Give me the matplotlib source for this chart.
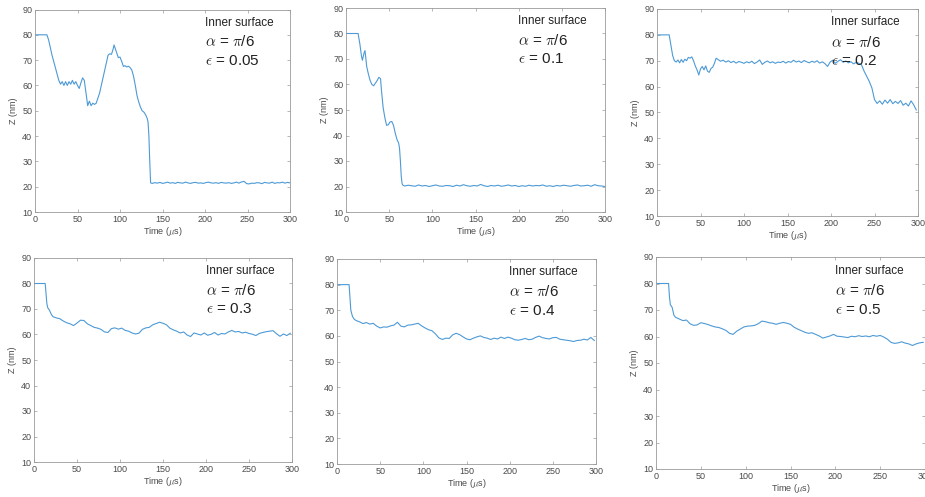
import numpy as np
import matplotlib
matplotlib.use("Agg")
import matplotlib.pyplot as plt

plt.rcParams['font.family'] = ['Liberation Sans', 'DejaVu Sans']
plt.rcParams['mathtext.fontset'] = 'cm'

# ---------------- data ----------------
eps_labels = ["0.05", "0.1", "0.2", "0.3", "0.4", "0.5"]

# panel 1, eps = 0.05
t1_head = [0, 14, 16, 18, 20, 22, 24, 26, 28, 30,
           32, 34, 36, 38, 40, 42, 44, 46, 48, 50,
           52, 54, 56, 58, 60, 62, 64, 66, 68, 70,
           72, 74, 76, 78, 80, 82, 84, 86, 88, 90,
           92, 93, 94, 96, 98, 100, 102, 104, 106, 108,
           110, 112, 114, 116, 118, 120, 122, 124, 126, 128,
           130, 132, 133, 134, 135, 136]
z1_head = [80, 80, 78, 75, 72, 69.5, 67, 64.5, 62, 60.5,
           61.5, 60, 61.5, 60, 61.5, 60.5, 62, 60.5, 61.5, 60,
           58.8, 61, 63, 62, 57, 52, 53.8, 52, 53, 52.5,
           53, 55, 57, 60, 63, 66, 69, 72, 72.5, 72.3,
           74.5, 76, 75, 73, 71, 71.2, 69.5, 67.5, 67.8, 67.3,
           67.6, 67, 66, 63.5, 60, 56, 53.5, 51.5, 50, 49.5,
           48.5, 47, 45.5, 40, 30, 21.5]
t1_tail = np.arange(138, 301, 3)
z1_tail = [21.3, 21.6, 21.4, 21.7, 21.3, 21.5, 21.8, 21.4, 21.6, 21.3,
           21.7, 21.5, 21.4, 21.8, 21.5, 21.3, 21.6, 21.7, 21.4, 21.5,
           21.3, 21.6, 21.8, 21.5, 21.4, 21.6, 21.3, 21.7, 21.5, 21.4,
           21.6, 21.3, 21.5, 21.8, 21.4, 21.9, 22.1, 21.2, 21.1, 21.4,
           21.3, 21.6, 21.5, 21.2, 21.7, 21.5, 21.4, 21.8, 21.3, 21.6,
           21.5, 21.8, 21.4, 21.7, 21.5]

# panel 2, eps = 0.1
t2_head = [0, 14, 16, 18, 19, 21, 22, 24, 26, 28,
           30, 32, 34, 36, 38, 40, 41, 43, 45, 47,
           49, 51, 53, 55, 57, 59, 61, 62, 63, 64,
           65, 66]
z2_head = [80, 80, 76, 71, 69.5, 72.5, 73.3, 67, 64, 61.5,
           60, 59.5, 60.5, 61.5, 62.8, 62.3, 58, 51, 47, 44,
           44.2, 45.3, 45.5, 44, 41, 38.5, 37, 35, 30, 24,
           21, 20.5]
t2_tail = np.arange(68, 301, 4)
z2_tail = [20.2, 20.5, 20.3, 20.1, 20.6, 20.2, 20.4, 20.0, 20.3, 20.6,
           20.2, 20.1, 20.4, 20.3, 20.0, 20.5, 20.2, 20.7, 20.3, 20.1,
           20.4, 20.2, 20.8, 20.3, 20.0, 20.4, 20.2, 20.5, 20.1, 20.3,
           20.6, 20.2, 20.4, 20.0, 20.3, 20.1, 20.5, 20.2, 20.4, 20.3,
           20.6, 20.1, 20.3, 20.0, 20.4, 20.2, 20.5, 20.3, 20.1, 20.4,
           20.6, 20.2, 20.3, 20.5, 20.1, 20.7, 20.3, 20.2, 20.0]

# panel 3, eps = 0.2
t3_head = [0, 14, 16, 18, 20, 22, 24, 26, 28, 30,
           32, 34, 36, 38, 40, 42, 44, 46, 48, 50,
           52, 54, 56, 58, 60, 62, 64, 66, 68]
z3_head = [80, 80, 76, 72, 70, 69.5, 70.3, 69.2, 70.5, 69.4,
           70.6, 70, 71.3, 71, 71.5, 70, 68, 66.5, 64.5, 66.8,
           67.8, 66.5, 68, 66, 65.5, 67, 67.5, 69, 71]
t3_mid = np.arange(70, 232, 3)
z3_mid = [70.5, 69.8, 70.2, 69.5, 70.0, 69.3, 69.8, 69.1, 69.7, 69.4,
          69.0, 69.6, 69.2, 69.8, 68.9, 69.5, 70.3, 68.6, 69.4, 69.9,
          69.2, 69.6, 69.0, 69.5, 69.3, 69.8, 69.1, 69.7, 69.4, 70.2,
          69.5, 69.9, 69.3, 70.1, 69.6, 69.2, 69.8, 69.4, 70.0, 69.1,
          69.6, 68.9, 67.8, 69.5, 70.2, 69.0, 69.8, 70.4, 69.4, 69.9,
          69.2, 69.6, 68.8, 69.4]
t3_tail = np.arange(232, 301, 3)
z3_tail = [69.0, 68.5, 66, 64, 62, 59.5, 55, 53.5, 54.5, 53.2,
           54.8, 53.6, 55, 53.4, 54.3, 53.5, 54.6, 52.8, 53.6, 52.5,
           54.5, 53, 51]

# panel 4, eps = 0.3
t4_head = [0, 13, 14, 15, 16, 18, 20]
z4_head = [80, 80, 76, 72, 70.5, 69.5, 68]
t4_tail = np.arange(22, 301, 4)
z4_tail = [67, 66.5, 66.2, 65.3, 64.6, 64.2, 63.5, 64.5, 65.6, 65.5,
           64.2, 63.5, 62.8, 62.5, 62, 61, 60.8, 62.3, 62.6, 62.1,
           62.5, 61.6, 61.3, 60.6, 60.2, 60.5, 62, 62.6, 62.8, 63.8,
           64.3, 64.8, 64.4, 63.8, 62.5, 61.8, 61.3, 60.6, 61, 59.8,
           59.2, 60.6, 60.2, 59.8, 60.6, 59.7, 60.1, 60.8, 59.8, 60.4,
           60.2, 61, 61.6, 61, 61.2, 60.6, 60.9, 60.4, 60.1, 59.6,
           60.4, 60.8, 61.1, 61.3, 61.5, 60.3, 59.3, 60.2, 59.6, 60.5]

# panel 5, eps = 0.4
t5_head = [0, 14, 15, 16, 18, 20]
z5_head = [80, 80, 75, 70, 67.5, 66.5]
t5_tail = np.arange(22, 301, 4)
z5_tail = [66, 65.5, 64.8, 65.2, 64.6, 64.9, 63.8, 63.1, 63.5, 63.4,
           63.9, 64.2, 65.3, 63.8, 63.5, 64.2, 64.3, 64.6, 64.9, 63.9,
           63.1, 62.4, 62, 60.8, 59.2, 58.6, 59.1, 59, 60.4, 61,
           60.5, 59.6, 58.8, 58.5, 59.1, 59.6, 60, 59.4, 59.1, 58.6,
           59.1, 58.8, 59.5, 59, 59.5, 59.1, 58.5, 58.3, 58.6, 59,
           58.5, 58.7, 59.4, 59.9, 59.3, 59, 58.8, 59.3, 59.4, 58.7,
           58.5, 58.3, 58.1, 57.8, 58.2, 58.3, 58.7, 58.4, 59.4, 58.2]

# panel 6, eps = 0.5
t6_head = [0, 14, 15, 16, 18, 20]
z6_head = [80, 80, 75, 72, 71, 68]
t6_tail = np.arange(22, 301, 4)
z6_tail = [67.2, 66.6, 66, 66.2, 64.8, 64.2, 64.4, 65.2, 64.9, 64.5,
           64, 63.6, 63.4, 62.9, 62.3, 61.2, 60.8, 62, 62.8, 63.6,
           63.9, 64, 64.2, 64.8, 65.8, 65.6, 65.2, 65, 64.6, 65,
           65.3, 65, 64.6, 63.5, 62.8, 62.2, 61.6, 61.2, 61.4, 60.8,
           60.2, 59.4, 59.8, 60.2, 60.8, 60.1, 60, 59.8, 59.6, 60.1,
           59.9, 60.3, 60, 60.2, 59.9, 60.4, 60.1, 60.4, 59.8, 59,
           57.8, 57.4, 57.6, 58, 57.5, 57.2, 56.6, 57.2, 57.6, 57.8]

series = [
    (list(t1_head) + list(t1_tail), z1_head + z1_tail),
    (list(t2_head) + list(t2_tail), z2_head + z2_tail),
    (list(t3_head) + list(t3_mid) + list(t3_tail), z3_head + z3_mid + z3_tail),
    (list(t4_head) + list(t4_tail), z4_head + z4_tail),
    (list(t5_head) + list(t5_tail), z5_head + z5_tail),
    (list(t6_head) + list(t6_tail), z6_head + z6_tail),
]

x_ticks = [0, 50, 100, 150, 200, 250, 300]
y_ticks = [10, 20, 30, 40, 50, 60, 70, 80, 90]

# ---------------- layout ----------------
W, H = 925, 497
# (left, right, top, bottom) in pixels
boxes = [(35, 290, 9.5, 212), (346, 605, 8, 212), (657, 918, 9, 216),
         (34, 292, 258, 462), (337, 596, 259, 464), (656, 925, 257, 469)]
show_ylabel = [True, True, True, True, False, True]

fig = plt.figure(figsize=(W / 100, H / 100), dpi=100)
line_color = '#4d9ad6'
axis_color = '#9a9a9a'
text_color = '#4a4a4a'

for i, ((l, r, t, b), (tt, zz)) in enumerate(zip(boxes, series)):
    ax = fig.add_axes([l / W, 1 - b / H, (r - l) / W, (b - t) / H])
    ax.plot(tt, zz, color=line_color, lw=0.8)
    ax.set_xlim(0, 300)
    ax.set_ylim(10, 90)
    ax.set_xticks(x_ticks)
    ax.set_yticks(y_ticks)
    ax.tick_params(direction='in', length=2.5, width=0.5, top=True, right=True,
                   labelsize=6.5, colors=text_color, pad=2, color=axis_color)
    for s in ax.spines.values():
        s.set_color(axis_color)
        s.set_linewidth(0.6)
    ax.set_xlabel(r'Time ($\mu$s)', fontsize=6.5, color=text_color, labelpad=1)
    if show_ylabel[i]:
        ax.set_ylabel('Z (nm)', fontsize=6.5, color=text_color, labelpad=3)
    ax.text(0.665, 0.935, 'Inner surface', transform=ax.transAxes,
            fontsize=8.5, color='#222222', va='center', ha='left')
    ax.text(0.665, 0.84, r'$\alpha$ = $\pi$/6', transform=ax.transAxes,
            fontsize=11, color='#222222', va='center', ha='left')
    ax.text(0.665, 0.748, r'$\epsilon$ = ' + eps_labels[i], transform=ax.transAxes,
            fontsize=11, color='#222222', va='center', ha='left')

fig.savefig('out.png', dpi=100)
